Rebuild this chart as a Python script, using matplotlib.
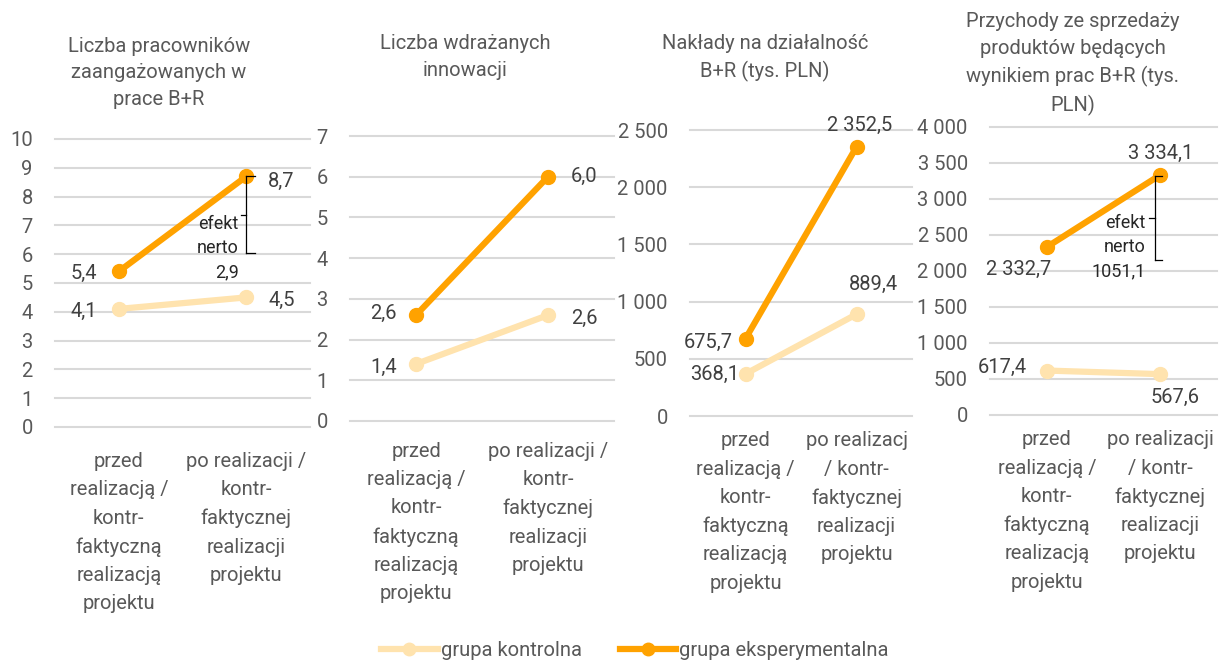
import matplotlib
matplotlib.use("Agg")
import matplotlib.pyplot as plt
from matplotlib.lines import Line2D

plt.rcParams['font.family'] = ['Roboto', 'DejaVu Sans']

# dane z wykresu
kontrolna_pracownicy = [4.1, 4.5]
ekspery_pracownicy = [5.4, 8.7]
kontrolna_innowacje = [1.4, 2.6]
ekspery_innowacje = [2.6, 6.0]
kontrolna_naklady = [368.1, 889.4]
ekspery_naklady = [675.7, 2352.5]
kontrolna_przychody = [617.4, 567.6]
ekspery_przychody = [2332.7, 3334.1]

efekt_pracownicy = "2,9"
efekt_przychody = "1051,1"

tytuly = [
    "Liczba pracowników\nzaangażowanych w\nprace B+R",
    "Liczba wdrażanych\ninnowacji",
    "Nakłady na działalność\nB+R (tys. PLN)",
    "Przychody ze sprzedaży\nproduktów będących\nwynikiem prac B+R (tys.\nPLN)",
]
kategorie = [
    ["przed\nrealizacją /\nkontr-\nfaktyczną\nrealizacją\nprojektu",
     "po realizacji /\nkontr-\nfaktycznej\nrealizacji\nprojektu"],
    ["przed\nrealizacją /\nkontr-\nfaktyczną\nrealizacją\nprojektu",
     "po realizacji /\nkontr-\nfaktycznej\nrealizacji\nprojektu"],
    ["przed\nrealizacją /\nkontr-\nfaktyczną\nrealizacją\nprojektu",
     "po realizacj\n/ kontr-\nfaktycznej\nrealizacji\nprojektu"],
    ["przed\nrealizacją /\nkontr-\nfaktyczną\nrealizacją\nprojektu",
     "po realizacji\n/ kontr-\nfaktycznej\nrealizacji\nprojektu"],
]
yticks = [list(range(0, 11)), list(range(0, 8)),
          list(range(0, 2501, 500)), list(range(0, 4001, 500))]

KONTR = "#FFE3AE"
EKSP = "#FFA200"
SZARY = "#595959"
W, H = 1219, 663
FS = 14.5


def fmt(v, dec=1):
    s = f"{v:,.{dec}f}".replace(",", " ").replace(".", ",")
    return s


fig = plt.figure(figsize=(W / 100, H / 100), dpi=100)

# polozenie osi w pikselach: lewo, prawo, gora, dol
pozycje = [(55, 310, 139, 427), (350, 614, 136, 421),
           (690, 912, 130, 416), (990, 1217, 127, 415)]
tytul_xy = [(159, 37), (465, 34), (765, 34), (1073, 12)]
pad_x = [18, 15, 11, 11]

# przesuniecia etykiet (piksele) i wyrownanie
etyk_kontr = [
    [(-22, -2, "right"), (22, -3, "left")],
    [(-19, -3, "right"), (23, -3, "left")],
    [(-6, -1, "right"), (17, 30, "center")],
    [(-20, 3, "right"), (15, -23, "center")],
]
etyk_eksp = [
    [(-22, -2, "right"), (22, -5, "left")],
    [(-19, 2, "right"), (23, 0, "left")],
    [(-13, -4, "right"), (3, 21, "center")],
    [(-28, -22, "center"), (0, 22, "center")],
]

kontr_all = [kontrolna_pracownicy, kontrolna_innowacje, kontrolna_naklady, kontrolna_przychody]
eksp_all = [ekspery_pracownicy, ekspery_innowacje, ekspery_naklady, ekspery_przychody]

osie = []
for i in range(4):
    l, r, t, b = pozycje[i]
    ax = fig.add_axes([l / W, 1 - b / H, (r - l) / W, (b - t) / H])
    osie.append(ax)
    ax.set_xlim(-0.5, 1.5)
    ax.set_ylim(0, yticks[i][-1])
    ax.set_yticks(yticks[i])
    ax.set_yticklabels([fmt(v, 0) for v in yticks[i]])
    ax.set_xticks([0, 1])
    ax.set_xticklabels(kategorie[i], linespacing=1.62)
    ax.tick_params(axis="y", length=0, pad=16, labelsize=FS, labelcolor=SZARY)
    ax.tick_params(axis="x", length=0, pad=pad_x[i], labelsize=FS, labelcolor=SZARY)
    for s in ax.spines.values():
        s.set_visible(False)
    ax.grid(axis="y", color="#D9D9D9", linewidth=1.5)
    ax.set_axisbelow(True)
    for gl in ax.get_ygridlines():
        gl.set_clip_on(False)

    ax.plot([0, 1], kontr_all[i], color=KONTR, lw=4.5, marker="o", ms=10,
            solid_capstyle="round", clip_on=False, zorder=3)
    ax.plot([0, 1], eksp_all[i], color=EKSP, lw=4.5, marker="o", ms=10,
            solid_capstyle="round", clip_on=False, zorder=4)

    for seria, off in ((kontr_all[i], etyk_kontr[i]), (eksp_all[i], etyk_eksp[i])):
        for j in range(2):
            dx, dy, ha = off[j]
            ax.annotate(fmt(seria[j]), (j, seria[j]), xytext=(dx, dy),
                        textcoords="offset pixels", ha=ha, va="center",
                        fontsize=FS, color="#404040", zorder=5)

    tx, ty = tytul_xy[i]
    fig.text(tx / W, 1 - ty / H, tytuly[i], ha="center", va="top",
             fontsize=FS, color=SZARY, linespacing=1.5)


def klamra(ax, x, y0, y1, ym, prawo, lewo, tekst_x, tekst_y, tekst):
    ax.plot([x, x], [y0, y1], color="black", lw=0.9, zorder=6)
    ax.plot([x, x + prawo], [y0, y0], color="black", lw=0.9, zorder=6)
    ax.plot([x, x + prawo], [y1, y1], color="black", lw=0.9, zorder=6)
    ax.plot([x - lewo, x], [ym, ym], color="black", lw=0.9, zorder=6)
    ax.text(tekst_x, tekst_y, tekst, ha="right", va="center", fontsize=13,
            color="#262626", linespacing=1.45, multialignment="right", zorder=6)


# efekt netto - klamry
klamra(osie[0], 1.0, 6.04, 8.73, 7.36, 0.07, 0.04, 0.94, 6.2,
       "efekt\nnerto\n" + efekt_pracownicy)
klamra(osie[3], 0.955, 2153, 3319, 2736, 0.06, 0.05, 0.87, 2330,
       "efekt\nnerto\n" + efekt_przychody)

# legenda
uchwyty = [
    Line2D([], [], color=KONTR, lw=4.5, marker="o", ms=9),
    Line2D([], [], color=EKSP, lw=4.5, marker="o", ms=9),
]
fig.legend(uchwyty, ["grupa kontrolna", "grupa eksperymentalna"], loc="center",
           bbox_to_anchor=(635 / W, 1 - 651 / H), ncol=2, frameon=False,
           fontsize=FS, labelcolor=SZARY, handlelength=2.8, handletextpad=0.15,
           columnspacing=1.9)

fig.savefig("out.png", dpi=100)
